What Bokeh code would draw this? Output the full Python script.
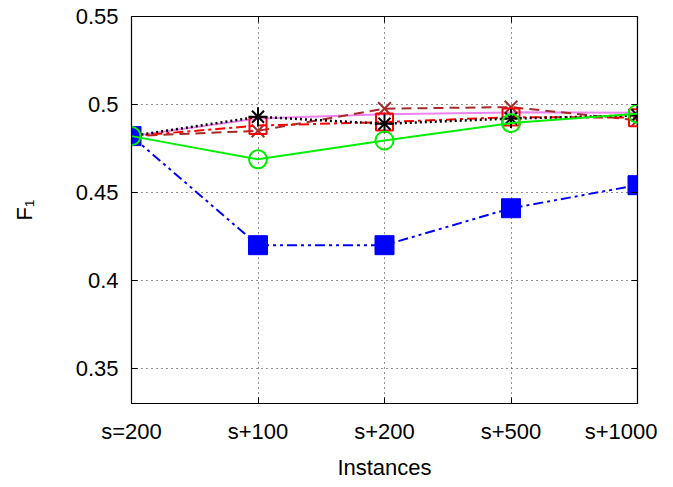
from bokeh.plotting import figure
from bokeh.models import FixedTicker, LinearAxis, Range1d
from bokeh.embed import file_html
from bokeh.resources import INLINE

categories = ["s=200", "s+100", "s+200", "s+500", "s+1000"]
x_pos = [0, 1, 2, 3, 4]
violet_vals = [0.482, 0.492, 0.4945, 0.4955, 0.4953]
brown_x_vals = [0.482, 0.485, 0.4976, 0.4985, 0.491]
red_sq_vals = [0.482, 0.488, 0.490, 0.4928, 0.4925]
black_ast_vals = [0.482, 0.493, 0.489, 0.492, 0.4938]
blue_sq_vals = [0.482, 0.420, 0.420, 0.441, 0.4541]
green_circ_vals = [0.482, 0.4688, 0.4795, 0.4894, 0.4947]
y_ticks = [0.35, 0.4, 0.45, 0.5, 0.55]
y_tick_labels = ["0.35", "0.4", "0.45", "0.5", "0.55"]

FONT = "Liberation Sans"
FS = "22px"

p = figure(width=657, height=482, output_backend="svg", toolbar_location=None,
           x_range=Range1d(0, 4), y_range=Range1d(0.33, 0.55),
           min_border_left=131, min_border_right=20, min_border_top=16, min_border_bottom=79)
p.background_fill_color = "white"
p.border_fill_color = "white"
p.outline_line_color = "black"
p.outline_line_width = 1.2

# axes
p.xaxis.ticker = FixedTicker(ticks=x_pos)
p.xaxis.major_label_overrides = {i: c for i, c in zip(x_pos, categories)}
p.yaxis.ticker = FixedTicker(ticks=y_ticks)
p.yaxis.major_label_overrides = {t: l for t, l in zip(y_ticks, y_tick_labels)}
for ax in (p.xaxis[0], p.yaxis[0]):
    ax.major_label_text_font = FONT
    ax.major_label_text_font_size = FS
    ax.major_label_text_color = "black"
    ax.axis_label_text_font = FONT
    ax.axis_label_text_font_size = FS
    ax.axis_label_text_font_style = "normal"
    ax.axis_label_text_color = "black"
    ax.major_tick_in = 6
    ax.major_tick_out = 0
    ax.minor_tick_line_color = None
    ax.axis_line_color = "black"
    ax.major_tick_line_color = "black"
p.xaxis.axis_label = "Instances"
p.yaxis.axis_label = "F\u2081"
p.xaxis.major_label_standoff = 15
p.yaxis.major_label_standoff = 13
p.xaxis.axis_label_standoff = 8
p.yaxis.axis_label_standoff = 36

# mirrored ticks
top_ax = LinearAxis(ticker=FixedTicker(ticks=x_pos), major_tick_in=6, major_tick_out=0,
                    minor_tick_line_color=None, major_label_text_color=None,
                    major_label_text_font_size="1px", axis_line_color=None)
right_ax = LinearAxis(ticker=FixedTicker(ticks=y_ticks), major_tick_in=6, major_tick_out=0,
                      minor_tick_line_color=None, major_label_text_color=None,
                      major_label_text_font_size="1px", axis_line_color=None)
p.add_layout(top_ax, "above")
p.add_layout(right_ax, "right")

# grid
for g in (p.xgrid[0], p.ygrid[0]):
    g.grid_line_color = "#222222"
    g.grid_line_dash = "1 4"
    g.grid_line_width = 1
p.xgrid.ticker = FixedTicker(ticks=[1, 2, 3])
p.ygrid.ticker = FixedTicker(ticks=y_ticks)

# series
p.line(x_pos, violet_vals, color="#ee82ee", line_width=2)

p.line(x_pos, brown_x_vals, color="#a52a2a", line_width=2, line_dash="10 6")
p.scatter(x_pos, brown_x_vals, marker="x", size=18, line_color="#a52a2a", line_width=2)

p.line(x_pos, red_sq_vals, color="#ff0000", line_width=2, line_dash="10 4 3 4")
p.scatter(x_pos, red_sq_vals, marker="square", size=17, line_color="#ff0000",
          fill_color=None, line_width=2)

p.line(x_pos, black_ast_vals, color="black", line_width=2.5, line_dash="2 3")
p.scatter(x_pos, black_ast_vals, marker="cross", size=19, line_color="black", line_width=2)
p.scatter(x_pos, black_ast_vals, marker="x", size=17, line_color="black", line_width=2)

p.line(x_pos, blue_sq_vals, color="#0000ff", line_width=2, line_dash="10 4 3 4 3 4")
p.scatter(x_pos, blue_sq_vals, marker="square", size=19, line_color="#0000ff",
          fill_color="#0000ff", line_width=1)

p.line(x_pos, green_circ_vals, color="#00ee00", line_width=2)
p.scatter(x_pos, green_circ_vals, marker="circle", size=18, line_color="#00ee00",
          fill_color=None, line_width=2)

open("out.html", "w").write(file_html(p, INLINE))
